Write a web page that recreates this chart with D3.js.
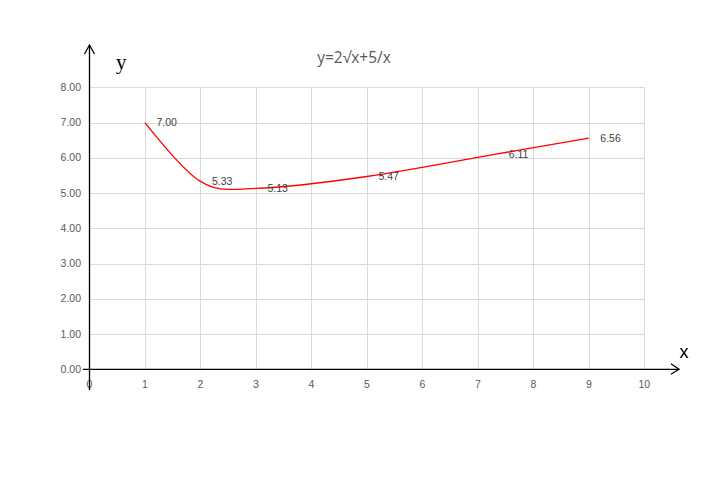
<!DOCTYPE html>
<html><head><meta charset="utf-8">
<script src="https://cdn.jsdelivr.net/npm/d3@7"></script>
<style>body{margin:0;background:#fff}</style>
</head><body>
<script>
const xValues = [1, 2, 3, 5, 7.35, 9];
const yValues = [7.00, 5.33, 5.13, 5.47, 6.11, 6.56];
const xTicks = [0,1,2,3,4,5,6,7,8,9,10];
const yTicks = [0,1,2,3,4,5,6,7,8];
const title = "y=2√x+5/x";

const W = 723, H = 479;
const svg = d3.select("body").append("svg").attr("width", W).attr("height", H);
const x = d3.scaleLinear().domain([0,10]).range([89.5,644.3]);
const y = d3.scaleLinear().domain([0,8]).range([369.3,87.3]);

// gridlines
const g = svg.append("g").attr("stroke","#d9d9d9").attr("stroke-width",1);
g.selectAll(".v").data(xTicks.filter(d=>d>0)).enter().append("line")
  .attr("x1",d=>Math.round(x(d))+0.5).attr("x2",d=>Math.round(x(d))+0.5)
  .attr("y1",y(8)).attr("y2",y(0));
g.selectAll(".h").data(yTicks.filter(d=>d>0)).enter().append("line")
  .attr("y1",d=>Math.round(y(d))+0.5).attr("y2",d=>Math.round(y(d))+0.5)
  .attr("x1",x(0)).attr("x2",x(10));

// y tick labels
svg.append("g").selectAll("text").data(yTicks).enter().append("text")
  .attr("x",81).attr("y",d=>y(d)).attr("dy","0.35em").attr("text-anchor","end")
  .attr("font-family","Liberation Sans, Arial, sans-serif").attr("font-size",10.5)
  .attr("fill","#595959").text(d=>d.toFixed(2));
// x tick labels
svg.append("g").selectAll("text").data(xTicks).enter().append("text")
  .attr("x",d=>x(d)).attr("y",388).attr("text-anchor","middle")
  .attr("font-family","Liberation Sans, Arial, sans-serif").attr("font-size",10.5)
  .attr("fill","#595959").text(d=>d);

// axes with arrows
const ax = svg.append("g").attr("stroke","#000").attr("stroke-width",1.3).attr("fill","none");
ax.append("line").attr("x1",83).attr("x2",679).attr("y1",y(0)).attr("y2",y(0));
ax.append("line").attr("x1",x(0)).attr("x2",x(0)).attr("y1",390).attr("y2",45);
ax.append("path").attr("d",`M671,${y(0)-5.5} L679,${y(0)} L671,${y(0)+5}`);
ax.append("path").attr("d",`M${x(0)-5},54 L${x(0)},45 L${x(0)+5},54`);

// axis names
svg.append("text").attr("x",116).attr("y",69).attr("font-family","Liberation Serif, Times New Roman, serif")
  .attr("font-size",21).attr("fill","#000").text("y");
svg.append("text").attr("x",679.5).attr("y",358).attr("font-family","Liberation Sans, Arial, sans-serif")
  .attr("font-size",18).attr("fill","#000").text("x");

// title
svg.append("text").attr("x",354).attr("y",62.5).attr("text-anchor","middle")
  .attr("font-family","Open Sans, sans-serif").attr("font-size",15.5).attr("fill","#595959").text(title);

// line
const pts = xValues.map((v,i)=>[v,yValues[i]]);
svg.append("path").datum(pts)
  .attr("d", d3.line().x(d=>x(d[0])).y(d=>y(d[1])).curve(d3.curveCardinal.tension(0)))
  .attr("fill","none").attr("stroke","#ff0000").attr("stroke-width",1.3);

// data labels
svg.append("g").selectAll("text").data(pts).enter().append("text")
  .attr("x",d=>x(d[0])+11.5).attr("y",d=>y(d[1])).attr("dy","0.35em")
  .attr("font-family","Liberation Sans, Arial, sans-serif").attr("font-size",10.5)
  .attr("fill","#404040").text(d=>d[1].toFixed(2));
</script>
</body></html>
